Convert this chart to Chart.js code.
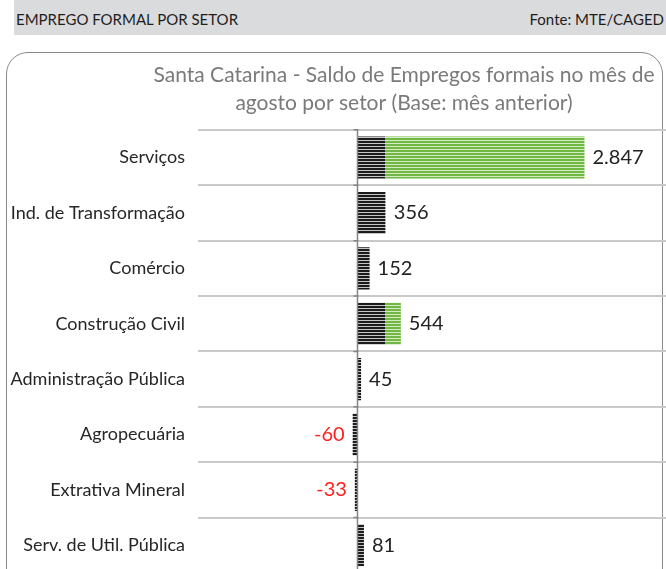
<!DOCTYPE html>
<html>
<head>
<meta charset="utf-8">
<script src="https://cdn.jsdelivr.net/npm/chart.js@4.4.0/dist/chart.umd.min.js"></script>
<style>
  html, body { margin: 0; padding: 0; background: #fff; }
  body { width: 666px; height: 569px; overflow: hidden; position: relative; font-family: Lato, "Open Sans", sans-serif; }
  .cabecalho { position: absolute; left: 14px; top: 0; width: 652px; height: 35px; background: #dadbdc; color: #1e1e1e; font-size: 15px; }
  .cabecalho span { position: absolute; top: 10px; }
  .cabecalho .titulo { left: 2px; }
  .cabecalho .fonte { right: 2px; }
  .moldura { position: absolute; left: 6px; top: 52px; width: 655px; height: 560px; border: 1.5px solid #8a8a8a; border-radius: 22px; }
  #setores { position: absolute; left: 0; top: 54px; }
</style>
</head>
<body>
<div class="cabecalho"><span class="titulo">EMPREGO FORMAL POR SETOR</span><span class="fonte">Fonte: MTE/CAGED</span></div>
<div class="moldura"></div>
<canvas id="setores" width="808" height="519"></canvas>
<script>
// saldo de empregos formais por setor - SC, agosto
const setores = [
  "Serviços",
  "Ind. de Transformação",
  "Comércio",
  "Construção Civil",
  "Administração Pública",
  "Agropecuária",
  "Extrativa Mineral",
  "Serv. de Util. Pública",
];
const saldo = [2847, 356, 152, 544, 45, -60, -33, 81];
const titulo = [
  "Santa Catarina - Saldo de Empregos formais no mês de",
  "agosto por setor (Base: mês anterior)",
];

const FONTE = "Lato, 'Open Sans', sans-serif";
const FAIXA_PRETA = 28; // largura da parte listrada em preto (px)

// formato 2.847
function milhar(v) {
  return String(v).replace(/\B(?=(\d{3})+(?!\d))/g, ".");
}

// padrão listrado horizontal: preto perto do zero, verde depois
let padrao = null;
function listras(chart) {
  if (padrao) return padrao;
  const x0 = Math.round(chart.scales.x.getPixelForValue(0));
  const tile = document.createElement("canvas");
  tile.width = chart.width;
  tile.height = 3;
  const c = tile.getContext("2d");
  const corte = x0 + FAIXA_PRETA;
  c.fillStyle = "#c6c6c6";
  c.fillRect(0, 0, corte, 3);
  c.fillStyle = "#1b1b1b";
  c.fillRect(0, 0, corte, 2);
  c.fillStyle = "#d4ebc3";
  c.fillRect(corte, 0, tile.width - corte, 3);
  c.fillStyle = "#6fb842";
  c.fillRect(corte, 0, tile.width - corte, 2);
  padrao = chart.ctx.createPattern(tile, "repeat");
  return padrao;
}

// linha do zero, marcas e rótulos de valor
const rotulos = {
  id: "rotulos",
  afterDatasetsDraw(chart) {
    const ctx = chart.ctx;
    const x = chart.scales.x;
    const y = chart.scales.y;
    const area = chart.chartArea;
    const x0 = x.getPixelForValue(0);

    ctx.save();
    ctx.strokeStyle = "#858585";
    ctx.lineWidth = 1.5;
    ctx.beginPath();
    ctx.moveTo(x0, area.top);
    ctx.lineTo(x0, area.bottom);
    for (let i = 0; i <= setores.length; i++) {
      const py = y.getPixelForValue(i - 0.5);
      ctx.moveTo(x0 - 4, py);
      ctx.lineTo(x0 + 1, py);
    }
    ctx.stroke();

    ctx.font = "20px " + FONTE;
    ctx.textBaseline = "middle";
    chart.getDatasetMeta(0).data.forEach((bar, i) => {
      const v = saldo[i];
      if (v < 0) {
        ctx.fillStyle = "#ff1f1f";
        ctx.textAlign = "right";
        ctx.fillText(milhar(v), bar.x - 8, bar.y);
      } else {
        ctx.fillStyle = "#222222";
        ctx.textAlign = "left";
        ctx.fillText(milhar(v), bar.x + 8, bar.y);
      }
    });
    ctx.restore();
  },
};

new Chart(document.getElementById("setores"), {
  type: "bar",
  data: {
    labels: setores,
    datasets: [
      {
        label: "Saldo",
        data: saldo,
        backgroundColor: (c) => (c.chart.chartArea ? listras(c.chart) : "#1b1b1b"),
        borderWidth: 0,
        barPercentage: 0.76,
        categoryPercentage: 1,
      },
    ],
  },
  options: {
    indexAxis: "y",
    responsive: false,
    animation: false,
    devicePixelRatio: 1,
    layout: {
      padding: 0,
    },
    scales: {
      x: {
        min: -2000,
        max: 5650,
        display: false,
      },
      y: {
        grid: {
          color: "#c9c9c9",
          lineWidth: 2,
          drawTicks: false,
        },
        border: { display: false },
        ticks: {
          color: "#262626",
          padding: 13,
          font: { family: FONTE, size: 18 },
        },
        afterFit(scale) {
          scale.width = 198;
          // a última categoria encosta na borda de baixo
          scale.paddingTop = 0;
          scale.paddingBottom = 0;
        },
      },
    },
    plugins: {
      legend: { display: false },
      tooltip: { enabled: false },
      title: {
        display: true,
        text: titulo,
        color: "#7a7a7a",
        font: { family: FONTE, size: 21, weight: "normal", lineHeight: 1.33 },
        padding: { top: 7, bottom: 13 },
      },
    },
  },
  plugins: [rotulos],
});
</script>
</body>
</html>
